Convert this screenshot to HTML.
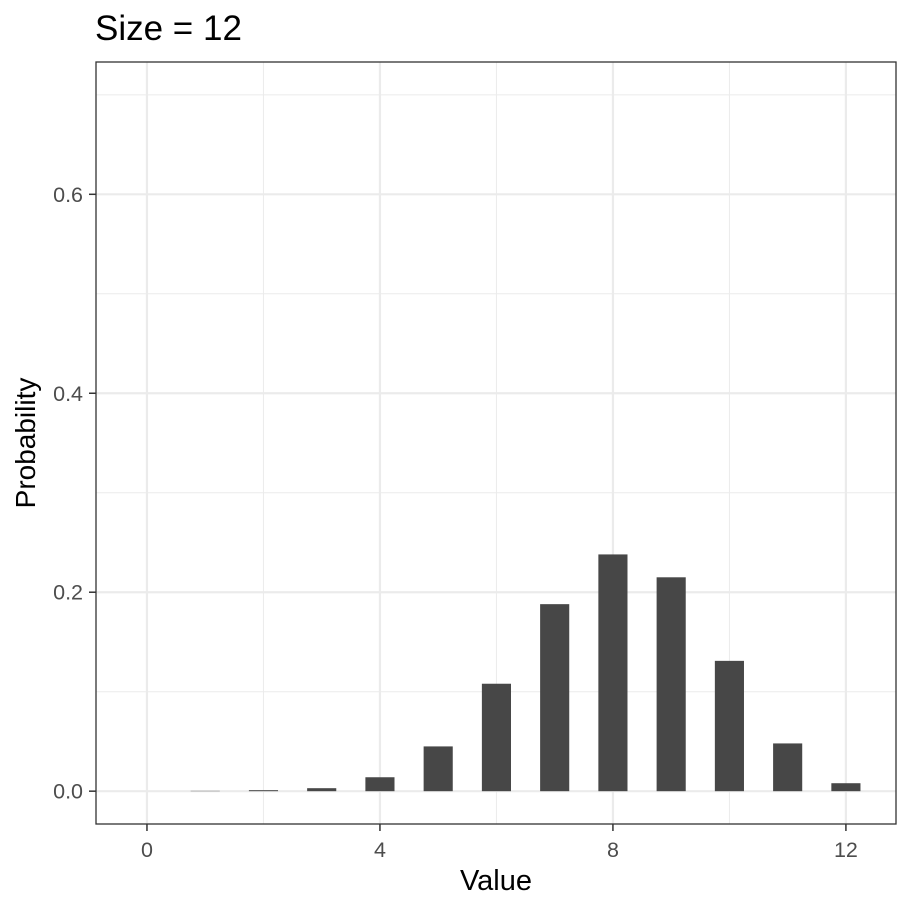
<!DOCTYPE html>
<html><head><meta charset="utf-8"><style>
body{margin:0;background:#fff;font-family:"Liberation Sans",Arial,sans-serif;}
</style></head><body>
<svg id="chart" width="912" height="912" xmlns="http://www.w3.org/2000/svg" font-family="Liberation Sans, Arial, sans-serif">
<rect width="912" height="912" fill="#fff"/>
<text x="95" y="40" font-size="35" fill="#000">Size = 12</text>
<g id="grid"></g>
<g id="bars"></g>
<rect x="96" y="62" width="800" height="762" fill="none" stroke="#333" stroke-width="1.3"/>
<g id="axes"></g>
<text x="496" y="890" font-size="29" text-anchor="middle" fill="#000">Value</text>
<text transform="translate(35,443) rotate(-90)" font-size="28" text-anchor="middle" fill="#000">Probability</text>
</svg>
<script>
const categories=[0,1,2,3,4,5,6,7,8,9,10,11,12];
const probabilities=[0,0.0003,0.001,0.003,0.014,0.045,0.108,0.188,0.238,0.215,0.131,0.048,0.008];
const xTicks=[0,4,8,12];
const xMinor=[2,6,10];
const yTicks=[0,0.2,0.4,0.6];
const yTickLabels=["0.0","0.2","0.4","0.6"];
const yMinor=[0.1,0.3,0.5,0.7];
const NS="http://www.w3.org/2000/svg";
const L=96,R=896,T=62,B=824;
const xmin=-0.875,xmax=12.86,ymin=-0.033,ymax=0.733;
const xs=v=>L+(v-xmin)/(xmax-xmin)*(R-L);
const ys=v=>B-(v-ymin)/(ymax-ymin)*(B-T);
function mk(tag,attrs,parent){const e=document.createElementNS(NS,tag);for(const k in attrs)e.setAttribute(k,attrs[k]);parent.appendChild(e);return e;}
const grid=document.getElementById('grid'),bars=document.getElementById('bars'),axes=document.getElementById('axes');
yMinor.forEach(v=>{const e=mk('line',{x1:L,x2:R,y1:ys(v),y2:ys(v),stroke:'#ebebeb','stroke-width':1},grid);

});
xMinor.forEach(v=>{const e=mk('line',{x1:xs(v),x2:xs(v),y1:T,y2:B,stroke:'#ebebeb','stroke-width':1},grid);

});
yTicks.forEach((v,i)=>{const e=mk('line',{x1:L,x2:R,y1:ys(v),y2:ys(v),stroke:'#ebebeb','stroke-width':2.2},grid);


const t=mk('line',{x1:L-7,x2:L,y1:ys(v),y2:ys(v),stroke:'#333','stroke-width':1.5},axes);


const lb=mk('text',{x:L-13,y:ys(v)+7.5,'font-size':21.5,'text-anchor':'end',fill:'#4d4d4d'},axes);lb.textContent=yTickLabels[i];

});
xTicks.forEach(v=>{const e=mk('line',{x1:xs(v),x2:xs(v),y1:T,y2:B,stroke:'#ebebeb','stroke-width':2.2},grid);


const t=mk('line',{x1:xs(v),x2:xs(v),y1:B,y2:B+7,stroke:'#333','stroke-width':1.5},axes);


const lb=mk('text',{x:xs(v),y:B+33,'font-size':21.5,'text-anchor':'middle',fill:'#4d4d4d'},axes);lb.textContent=String(v);

});
categories.forEach((c,i)=>{const p=probabilities[i];if(p<=0)return;const y0=ys(0),y1=ys(p);
const r=mk('rect',{x:xs(c-0.25),y:Math.min(y0,y1),width:xs(c+0.25)-xs(c-0.25),height:Math.max(Math.abs(y0-y1),0.3),fill:'#474747'},bars);

});
</script>
</body></html>
